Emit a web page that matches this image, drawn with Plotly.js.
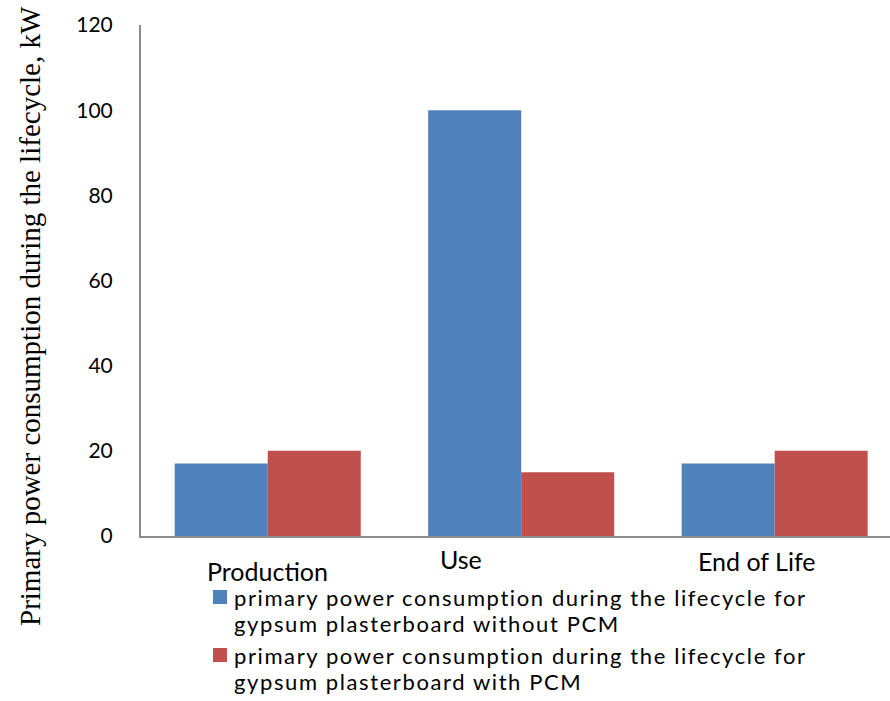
<!DOCTYPE html>
<html>
<head>
<meta charset="utf-8">
<script src="https://cdn.plot.ly/plotly-3.0.1.min.js"></script>
<style>
  html, body { margin: 0; padding: 0; background: #ffffff; }
  #chart { width: 890px; height: 701px; }
</style>
</head>
<body>
<div id="chart"></div>
<script>
// Lifecycle stages (x categories)
const stages = ['Production', 'Use', 'End of Life'];

// Primary power consumption, kW
const withoutPCM = [17, 100, 17];
const withPCM = [20, 15, 20];

// Series names shown in the key below the chart (two lines each)
const seriesNames = [
  ['primary power consumption during the lifecycle for', 'gypsum plasterboard without PCM'],
  ['primary power consumption during the lifecycle for', 'gypsum plasterboard with PCM']
];

// Y axis ticks
const yTicks = [0, 20, 40, 60, 80, 100, 120];

// Series colours
const seriesColors = ['#4F81BD', '#C0504D'];

// Stage label placement below the axis (pixel offsets)
const labelShiftX = [0, -60, -18];
const labelShiftY = [-35, -23, -25];

// Figure geometry (pixels)
const W = 890, H = 701;
const M = { l: 141, r: 0, t: 25, b: 165 };
const plotW = W - M.l - M.r;
const plotH = H - M.t - M.b;
const px = (x) => (x - M.l) / plotW;          // pixel x -> paper x
const py = (y) => (H - M.b - y) / plotH;      // pixel y -> paper y

// Key placement (pixels): swatch box, text start and line centres
const keySwatchLeft = 213, keySwatchSize = 14, keyTextLeft = 233;
const keyLineCentres = [[597, 623], [655, 682]];

const sansFont = 'Lato, "Open Sans", sans-serif';

const traces = [
  {
    type: 'bar',
    name: 'without PCM',
    x: stages,
    y: withoutPCM,
    marker: { color: seriesColors[0] },
    hoverinfo: 'x+y'
  },
  {
    type: 'bar',
    name: 'with PCM',
    x: stages,
    y: withPCM,
    marker: { color: seriesColors[1] },
    hoverinfo: 'x+y'
  }
];

const stageLabels = stages.map((s, i) => ({
  x: s,
  y: 0,
  xref: 'x',
  yref: 'y',
  text: s,
  showarrow: false,
  xanchor: 'center',
  yanchor: 'middle',
  xshift: labelShiftX[i],
  yshift: labelShiftY[i],
  font: { family: sansFont, size: 25, color: '#000000' }
}));

// Key: coloured square plus two lines of description for each series
const keyShapes = seriesColors.map((c, i) => ({
  type: 'rect',
  xref: 'paper',
  yref: 'paper',
  x0: px(keySwatchLeft),
  x1: px(keySwatchLeft + keySwatchSize),
  y0: py(keyLineCentres[i][0] - keySwatchSize / 2),
  y1: py(keyLineCentres[i][0] + keySwatchSize / 2),
  fillcolor: c,
  line: { width: 0 }
}));

const keyTexts = [];
seriesNames.forEach((lines, i) => {
  lines.forEach((line, j) => {
    keyTexts.push({
      xref: 'paper',
      yref: 'paper',
      x: px(keyTextLeft),
      y: py(keyLineCentres[i][j]),
      text: '<span style="letter-spacing:1.6px">' + line + '</span>',
      align: 'left',
      xanchor: 'left',
      yanchor: 'middle',
      showarrow: false,
      borderpad: 0,
      font: { family: sansFont, size: 22, color: '#000000' }
    });
  });
});

const layout = {
  width: W,
  height: H,
  margin: { l: M.l, r: M.r, t: M.t, b: M.b, autoexpand: false },
  paper_bgcolor: '#ffffff',
  plot_bgcolor: '#ffffff',
  barmode: 'group',
  bargap: 0.266,
  bargroupgap: 0,
  showlegend: false,
  xaxis: {
    type: 'category',
    range: [-0.5, 2.455],
    showticklabels: false,
    ticks: '',
    showgrid: false,
    zeroline: false,
    showline: true,
    linecolor: '#8c8c8c',
    linewidth: 2
  },
  yaxis: {
    range: [0, 120],
    tickvals: yTicks,
    ticktext: yTicks.map(String),
    ticks: '',
    ticklabelstandoff: 22,
    tickfont: { family: sansFont, size: 21, color: '#000000' },
    showgrid: false,
    zeroline: false,
    showline: true,
    linecolor: '#8c8c8c',
    linewidth: 2
  },
  shapes: keyShapes,
  annotations: stageLabels.concat(keyTexts, [
    {
      xref: 'paper',
      yref: 'paper',
      x: px(30),
      y: py(316),
      text: 'Primary power consumption during the lifecycle, kW',
      textangle: -90,
      showarrow: false,
      xanchor: 'center',
      yanchor: 'middle',
      font: { family: '"Liberation Serif", "Times New Roman", serif', size: 29, color: '#000000' }
    }
  ])
};

Plotly.newPlot('chart', traces, layout, { displayModeBar: false, staticPlot: true });
</script>
</body>
</html>
